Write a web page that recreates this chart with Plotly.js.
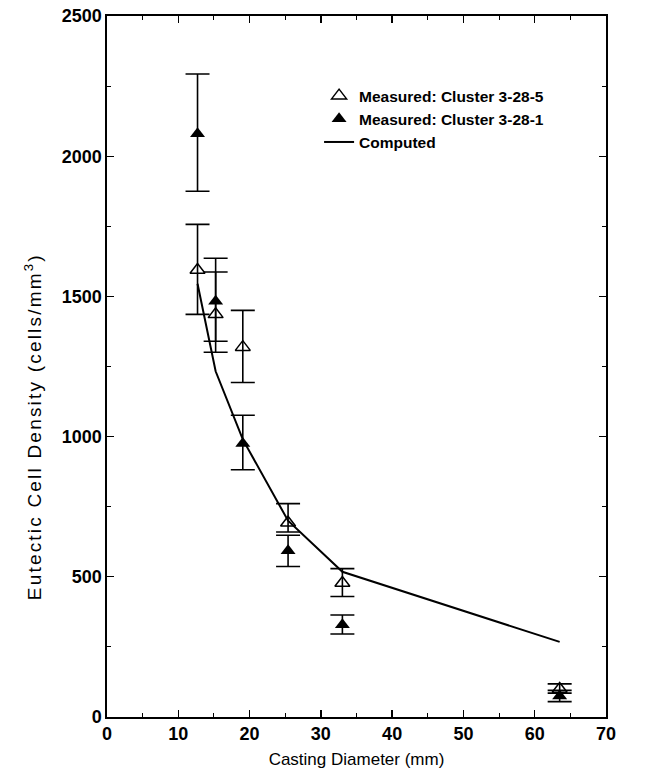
<!DOCTYPE html>
<html>
<head>
<meta charset="utf-8">
<script src="https://cdn.plot.ly/plotly-3.0.1.min.js"></script>
<style>
html,body{margin:0;padding:0;background:#fff;}
#chart{width:656px;height:775px;}
#chart .annotation-text{letter-spacing:2.2px;}
</style>
</head>
<body>
<div id="chart"></div>
<script>
// Casting diameters (mm)
const diam = [12.7, 15.24, 19.05, 25.4, 33.02, 63.5];

// Measured: Cluster 3-28-5 (open triangles)
const c5Value = [1594, 1436, 1319, 693, 478, 100];
const c5Upper = [1757, 1587, 1450, 761, 529, 118];
const c5Lower = [1436, 1301, 1193, 660, 430, 85];

// Measured: Cluster 3-28-1 (filled triangles)
const c1Value = [2080, 1483, 975, 593, 329, 75];
const c1Upper = [2293, 1636, 1076, 648, 364, 95];
const c1Lower = [1875, 1340, 882, 537, 296, 55];

// Computed
const compDiam = [12.7, 15.24, 19.05, 25.4, 33.02, 63.5];
const compValue = [1545, 1233, 990, 700, 518, 268];

const xTicks = [0, 10, 20, 30, 40, 50, 60, 70];
const yTicks = [0, 500, 1000, 1500, 2000, 2500];

function plus(v, u) { return v.map((x, i) => u[i] - x); }
function minus(v, l) { return v.map((x, i) => x - l[i]); }

const traces = [
  {
    x: diam, y: c5Value, type: 'scatter', mode: 'markers',
    name: 'Measured: Cluster 3-28-5',
    marker: {symbol: 'triangle-up-open', size: 13, color: '#000', line: {color: '#000', width: 1.5}},
    error_y: {type: 'data', symmetric: false, array: plus(c5Value, c5Upper), arrayminus: minus(c5Value, c5Lower),
              color: '#000', thickness: 1.6, width: 12}
  },
  {
    x: diam, y: c1Value, type: 'scatter', mode: 'markers',
    name: 'Measured: Cluster 3-28-1',
    marker: {symbol: 'triangle-up', size: 13, color: '#000'},
    error_y: {type: 'data', symmetric: false, array: plus(c1Value, c1Upper), arrayminus: minus(c1Value, c1Lower),
              color: '#000', thickness: 1.6, width: 12}
  },
  {
    x: compDiam, y: compValue, type: 'scatter', mode: 'lines',
    name: 'Computed',
    line: {color: '#000', width: 2}
  }
];

const fontFam = 'Liberation Sans, Arial, Helvetica, sans-serif';

const layout = {
  width: 656, height: 775,
  margin: {l: 107, r: 50, t: 16, b: 58},
  paper_bgcolor: '#fff', plot_bgcolor: '#fff',
  font: {family: fontFam, color: '#000', size: 15},
  showlegend: true,
  legend: {
    x: 0.425, y: 0.91, xanchor: 'left', yanchor: 'top',
    bgcolor: 'rgba(0,0,0,0)', borderwidth: 0,
    font: {family: fontFam, size: 15.5, color: '#000', weight: 'bold'},
    tracegroupgap: 0, itemwidth: 30
  },
  xaxis: {
    range: [0, 70], tickvals: xTicks, ticktext: xTicks.map(String),
    ticks: 'inside', ticklen: 7, tickwidth: 1.3, tickcolor: '#000',
    minor: {dtick: 5, ticks: 'inside', ticklen: 4, tickcolor: '#000', tickwidth: 1},
    showline: true, linecolor: '#000', linewidth: 1.7, mirror: 'allticks',
    showgrid: false, zeroline: false,
    tickfont: {family: fontFam, size: 18, weight: 'bold'},
    title: {text: 'Casting Diameter (mm)', font: {family: fontFam, size: 17}, standoff: 10}
  },
  yaxis: {
    range: [0, 2500], tickvals: yTicks, ticktext: yTicks.map(String),
    ticks: 'inside', ticklen: 7, tickwidth: 1.3, tickcolor: '#000',
    minor: {dtick: 250, ticks: 'inside', ticklen: 4, tickcolor: '#000', tickwidth: 1},
    showline: true, linecolor: '#000', linewidth: 1.7, mirror: 'allticks',
    showgrid: false, zeroline: false,
    tickfont: {family: fontFam, size: 18, weight: 'bold'}
  },
  annotations: [{
    text: 'Eutectic Cell Density (cells/mm<sup>3</sup>)',
    xref: 'paper', yref: 'paper', x: -0.148, y: 0.414,
    xanchor: 'center', yanchor: 'middle', textangle: -90, showarrow: false,
    font: {family: fontFam, size: 19, color: '#000'}
  }]
};

Plotly.newPlot('chart', traces, layout, {displayModeBar: false, staticPlot: true});
</script>
</body>
</html>
